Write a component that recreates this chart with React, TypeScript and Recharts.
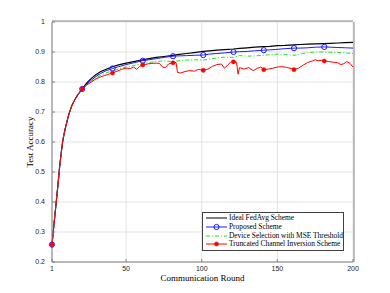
import { LineChart, Line, XAxis, YAxis, CartesianGrid } from 'recharts'

// first rounds: all schemes overlap
const earlyRounds = [1, 2, 3, 4, 5, 6, 7, 8, 9, 10, 12, 14, 16, 18]
const earlyAcc = [0.258, 0.31, 0.36, 0.41, 0.46, 0.515, 0.56, 0.6, 0.627, 0.65, 0.69, 0.72, 0.74, 0.757]

const lateRounds = [21, 24, 27, 30, 33, 36, 41, 45, 50, 55, 61, 65, 70, 75, 81, 85, 90, 95, 101, 105, 110, 115, 121, 125, 130, 135, 141, 145, 150, 155, 161, 165, 170, 175, 181, 185, 190, 195, 200]

const idealAcc = [0.777, 0.797, 0.812, 0.824, 0.834, 0.841, 0.851, 0.857, 0.863, 0.868, 0.874, 0.878, 0.882, 0.885, 0.889, 0.892, 0.895, 0.898, 0.902, 0.904, 0.906, 0.908, 0.91, 0.912, 0.914, 0.916, 0.918, 0.919, 0.921, 0.922, 0.924, 0.925, 0.926, 0.927, 0.928, 0.929, 0.93, 0.931, 0.932]
const proposedAcc = [0.777, 0.793, 0.806, 0.818, 0.828, 0.836, 0.845, 0.851, 0.858, 0.864, 0.871, 0.874, 0.878, 0.882, 0.886, 0.887, 0.888, 0.889, 0.89, 0.893, 0.895, 0.897, 0.9, 0.901, 0.902, 0.904, 0.906, 0.907, 0.909, 0.911, 0.913, 0.913, 0.914, 0.916, 0.917, 0.916, 0.915, 0.914, 0.913]
const mseAcc = [0.776, 0.791, 0.803, 0.814, 0.822, 0.829, 0.837, 0.843, 0.85, 0.855, 0.861, 0.865, 0.869, 0.87, 0.868, 0.871, 0.873, 0.874, 0.873, 0.876, 0.88, 0.883, 0.882, 0.888, 0.886, 0.887, 0.889, 0.891, 0.893, 0.892, 0.889, 0.893, 0.898, 0.9, 0.9, 0.899, 0.898, 0.897, 0.895]

const truncRounds = [21, 24, 27, 30, 33, 36, 39, 41, 44, 47, 50, 53, 55, 57, 59, 61, 64, 67, 70, 72, 74, 76, 78, 81, 83, 84, 86, 89, 92, 95, 98, 101, 104, 107, 110, 113, 115, 117, 119, 121, 123, 124, 125, 128, 131, 134, 137, 139, 141, 144, 147, 150, 153, 156, 159, 161, 164, 167, 170, 173, 175, 177, 179, 181, 184, 187, 190, 192, 194, 196, 198, 200]
const truncAcc = [0.777, 0.79, 0.8, 0.81, 0.817, 0.822, 0.827, 0.83, 0.836, 0.842, 0.846, 0.845, 0.85, 0.842, 0.852, 0.857, 0.86, 0.862, 0.863, 0.862, 0.85, 0.848, 0.86, 0.864, 0.865, 0.832, 0.83, 0.835, 0.838, 0.836, 0.842, 0.839, 0.843, 0.852, 0.858, 0.86, 0.846, 0.855, 0.866, 0.867, 0.866, 0.826, 0.848, 0.843, 0.848, 0.838, 0.846, 0.85, 0.841, 0.843, 0.846, 0.85, 0.851, 0.849, 0.845, 0.841, 0.846, 0.856, 0.865, 0.87, 0.874, 0.871, 0.872, 0.87, 0.868, 0.866, 0.864, 0.858, 0.861, 0.868, 0.862, 0.85]

const markerRounds = [1, 21, 41, 61, 81, 101, 121, 141, 161, 181]
const xTicks = [1, 50, 100, 150, 200]
const yTicks = [0.2, 0.3, 0.4, 0.5, 0.6, 0.7, 0.8, 0.9, 1]

const toPoints = (rounds: number[], acc: number[]) =>
  [...earlyRounds, ...rounds].map((round, i) => ({ round, acc: [...earlyAcc, ...acc][i] }))

const series = [
  { name: 'Ideal FedAvg Scheme', color: '#000000', data: toPoints(lateRounds, idealAcc), marker: 'none', dash: undefined },
  { name: 'Proposed Scheme', color: '#1a1aff', data: toPoints(lateRounds, proposedAcc), marker: 'open', dash: undefined },
  { name: 'Device Selection with MSE Threshold', color: '#22e022', data: toPoints(lateRounds, mseAcc), marker: 'none', dash: '4 2 1 2' },
  { name: 'Truncated Channel Inversion Scheme', color: '#ff0000', data: toPoints(truncRounds, truncAcc), marker: 'filled', dash: undefined },
]

const serif = '"Liberation Serif", "Times New Roman", serif'
const sans = '"Liberation Sans", Arial, sans-serif'
const axisColor = '#808080'
const gridColor = '#e3e3e3'

function Marker({ cx, cy, color, kind }: { cx: number; cy: number; color: string; kind: string }) {
  if (kind === 'open') return <circle cx={cx} cy={cy} r={2.6} fill="none" stroke={color} strokeWidth={1} />
  if (kind === 'filled') return <circle cx={cx} cy={cy} r={2.1} fill={color} stroke={color} strokeWidth={0.5} />
  return null
}

function LegendBox() {
  return (
    <div
      style={{
        position: 'absolute',
        left: 202,
        top: 212,
        width: 142,
        border: '1px solid #404040',
        background: '#fff',
        padding: '1px 0 1px 2px',
        boxSizing: 'border-box',
      }}
    >
      {series.map((s) => (
        <div key={s.name} style={{ display: 'flex', alignItems: 'center', height: 8.7 }}>
          <svg width={23} height={8} style={{ flex: 'none' }}>
            <line x1={1} y1={4} x2={22} y2={4} stroke={s.color} strokeWidth={1} strokeDasharray={s.dash} />
            <Marker cx={11.5} cy={4} color={s.color} kind={s.marker} />
          </svg>
          <span style={{ fontFamily: serif, fontSize: 7.4, color: '#000', marginLeft: 1, whiteSpace: 'nowrap', lineHeight: '8px' }}>{s.name}</span>
        </div>
      ))}
    </div>
  )
}

export default function App() {
  return (
    <div style={{ position: 'absolute', left: 0, top: 0, width: 390, height: 293, background: '#fff' }}>
      <LineChart width={390} height={293} margin={{ top: 20, right: 35, bottom: 11, left: 0 }}>
        <CartesianGrid stroke={gridColor} strokeWidth={1} horizontalValues={yTicks} verticalValues={xTicks} />
        {/* grid drawn as long inward tick lines of two hidden axes */}
        <XAxis xAxisId="gx" orientation="top" type="number" domain={[1, 200]} ticks={xTicks} height={1} tick={false} axisLine={false} tickSize={-240} tickLine={{ stroke: gridColor }} />
        <YAxis yAxisId="gy" orientation="right" type="number" domain={[0.2, 1]} ticks={yTicks} width={1} tick={false} axisLine={false} tickSize={-301} tickLine={{ stroke: gridColor }} />
        <XAxis
          dataKey="round"
          type="number"
          domain={[1, 200]}
          ticks={xTicks}
          height={20}
          allowDuplicatedCategory={false}
          stroke={axisColor}
          tickSize={-3}
          tickMargin={7.5}
          tick={{ fill: '#262626', fontSize: 7, fontFamily: sans }}
          label={({ viewBox }: any) => (
            <text x={viewBox.x + viewBox.width / 2} y={viewBox.y + 19} textAnchor="middle" fontFamily={serif} fontSize={9} fill="#000">
              Communication Round
            </text>
          )}
        />
        <XAxis xAxisId="t" orientation="top" type="number" domain={[1, 200]} ticks={xTicks} height={1} tick={false} tickSize={-3} stroke={axisColor} />
        <YAxis
          type="number"
          domain={[0.2, 1]}
          ticks={yTicks}
          width={52}
          stroke={axisColor}
          tickSize={-3}
          tickMargin={10}
          tickFormatter={(v: number) => (v === 1 ? '1' : v.toFixed(1))}
          tick={{ fill: '#262626', fontSize: 7, fontFamily: sans }}
          label={({ viewBox }: any) => (
            <text
              x={30}
              y={viewBox.y + viewBox.height / 2}
              transform={`rotate(-90 30 ${viewBox.y + viewBox.height / 2})`}
              textAnchor="middle"
              dominantBaseline="central"
              fontFamily={serif}
              fontSize={9}
              fill="#000"
            >
              Test Accuracy
            </text>
          )}
        />
        <YAxis yAxisId="r" orientation="right" type="number" domain={[0.2, 1]} ticks={yTicks} width={1} tick={false} tickSize={-3} stroke={axisColor} />
        {series.map((s) => (
          <Line
            key={s.name}
            data={s.data}
            dataKey="acc"
            name={s.name}
            type="linear"
            stroke={s.color}
            strokeWidth={s.color === '#000000' ? 1.2 : 1}
            strokeDasharray={s.dash}
            isAnimationActive={false}
            activeDot={false}
            dot={(p: any) => (
              <g key={`${s.name}-${p.index}`}>
                {markerRounds.includes(p.payload.round) ? <Marker cx={p.cx} cy={p.cy} color={s.color} kind={s.marker} /> : null}
              </g>
            )}
          />
        ))}
      </LineChart>
      <LegendBox />
    </div>
  )
}
